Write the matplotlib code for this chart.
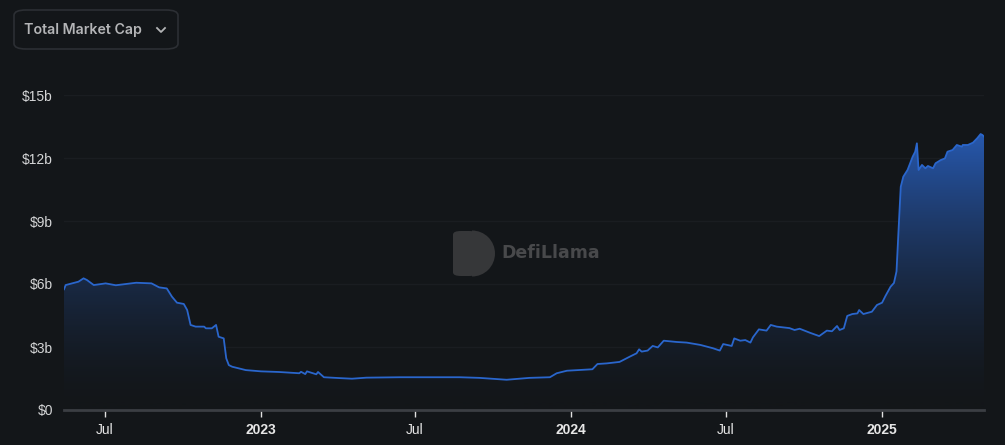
import numpy as np
import pandas as pd
import matplotlib
matplotlib.use("Agg")
import matplotlib.pyplot as plt
import matplotlib.dates as mdates
from matplotlib.colors import LinearSegmentedColormap
from matplotlib.patches import FancyBboxPatch, Wedge
from matplotlib.lines import Line2D

# Total market cap in $b
dates = [
    "2022-05-14", "2022-05-16", "2022-05-31", "2022-06-06", "2022-06-10", "2022-06-18",
    "2022-06-27", "2022-07-02", "2022-07-14", "2022-08-07", "2022-08-25", "2022-09-03",
    "2022-09-12", "2022-09-18", "2022-09-24", "2022-10-02", "2022-10-06", "2022-10-10",
    "2022-10-16", "2022-10-26", "2022-10-28", "2022-11-04", "2022-11-09", "2022-11-12",
    "2022-11-18", "2022-11-21", "2022-11-24", "2022-11-28", "2022-12-14", "2023-01-01",
    "2023-01-22", "2023-02-15", "2023-02-17", "2023-02-22", "2023-02-24", "2023-03-07",
    "2023-03-09", "2023-03-16", "2023-04-03", "2023-04-18", "2023-05-05", "2023-06-13",
    "2023-07-18", "2023-08-23", "2023-09-15", "2023-10-17", "2023-11-13", "2023-12-07",
    "2023-12-15", "2023-12-27", "2024-01-26", "2024-02-01", "2024-02-12", "2024-02-27",
    "2024-03-10", "2024-03-18", "2024-03-21", "2024-03-24", "2024-03-31", "2024-04-06",
    "2024-04-12", "2024-04-19", "2024-05-04", "2024-05-16", "2024-06-01", "2024-06-16",
    "2024-06-24", "2024-06-28", "2024-07-08", "2024-07-11", "2024-07-18", "2024-07-24",
    "2024-07-30", "2024-08-02", "2024-08-09", "2024-08-18", "2024-08-23", "2024-08-30",
    "2024-09-14", "2024-09-20", "2024-09-26", "2024-10-08", "2024-10-19", "2024-10-28",
    "2024-11-03", "2024-11-09", "2024-11-12", "2024-11-17", "2024-11-21", "2024-11-27",
    "2024-12-03", "2024-12-05", "2024-12-10", "2024-12-20", "2024-12-26", "2025-01-01",
    "2025-01-05", "2025-01-11", "2025-01-15", "2025-01-18", "2025-01-21", "2025-01-23",
    "2025-01-26", "2025-01-31", "2025-02-06", "2025-02-09", "2025-02-11", "2025-02-13",
    "2025-02-17", "2025-02-21", "2025-02-24", "2025-03-02", "2025-03-05", "2025-03-11",
    "2025-03-16", "2025-03-19", "2025-03-25", "2025-03-30", "2025-04-05", "2025-04-06",
    "2025-04-12", "2025-04-18", "2025-04-23", "2025-04-27", "2025-04-29", "2025-05-01",
]
mcap = [
    5.75, 5.95, 6.11, 6.27, 6.19, 5.95,
    6.00, 6.03, 5.94, 6.06, 6.03, 5.84,
    5.79, 5.40, 5.11, 5.05, 4.76, 4.05,
    3.97, 3.97, 3.89, 3.89, 4.05, 3.49,
    3.41, 2.46, 2.14, 2.06, 1.90, 1.84,
    1.81, 1.75, 1.82, 1.71, 1.84, 1.70,
    1.81, 1.56, 1.52, 1.49, 1.54, 1.56,
    1.56, 1.56, 1.53, 1.44, 1.53, 1.56,
    1.75, 1.87, 1.94, 2.19, 2.22, 2.29,
    2.54, 2.70, 2.89, 2.78, 2.83, 3.05,
    2.98, 3.30, 3.24, 3.21, 3.10, 2.94,
    2.83, 3.14, 3.05, 3.41, 3.30, 3.33,
    3.21, 3.46, 3.84, 3.78, 4.05, 3.97,
    3.90, 3.81, 3.87, 3.68, 3.52, 3.78,
    3.75, 4.00, 3.81, 3.89, 4.48, 4.57,
    4.60, 4.76, 4.57, 4.68, 5.00, 5.11,
    5.43, 5.87, 6.05, 6.60, 9.05, 10.63,
    11.11, 11.43, 12.06, 12.30, 12.70, 11.43,
    11.67, 11.51, 11.62, 11.51, 11.75, 11.90,
    11.98, 12.30, 12.38, 12.62, 12.54, 12.62,
    12.62, 12.73, 12.94, 13.14, 13.10, 13.02,
]
y_ticks = [0, 3, 6, 9, 12, 15]
y_labels = ["$0", "$3b", "$6b", "$9b", "$12b", "$15b"]
x_ticks = ["2022-07-01", "2023-01-01", "2023-07-01", "2024-01-01", "2024-07-01", "2025-01-01"]
x_labels = ["Jul", "2023", "Jul", "2024", "Jul", "2025"]

bg = "#131619"
line_col = "#2a66cc"
W, H = 1005, 445

plt.rcParams["font.family"] = ["Liberation Sans", "DejaVu Sans"]

fig = plt.figure(figsize=(W / 100, H / 100), dpi=100, facecolor=bg)
ax = fig.add_axes([64 / W, (H - 410) / H, (984 - 64) / W, (410 - 95) / H])
ax.set_facecolor(bg)

x = mdates.date2num(pd.to_datetime(dates))
y = np.array(mcap)

# gradient under the line
poly = ax.fill_between(x, y, 0, color="none", lw=0)
cmap = LinearSegmentedColormap.from_list("fade", [bg, "#2758ad"])
grad = np.linspace(0, 1, 256).reshape(-1, 1) ** 1.6
img = ax.imshow(grad, extent=[x[0], x[-1], 0, y.max()], origin="lower",
                aspect="auto", cmap=cmap, zorder=1)
img.set_clip_path(poly.get_paths()[0], transform=ax.transData)

ax.plot(x, y, color=line_col, lw=1.3, zorder=3)

ax.set_xlim(x[0], mdates.date2num(pd.Timestamp("2025-05-01")))
ax.set_ylim(0, 15)

ax.set_yticks(y_ticks)
ax.set_yticklabels(y_labels)
ax.set_xticks(mdates.date2num(pd.to_datetime(x_ticks)))
ax.set_xticklabels(x_labels)
for lbl, txt in zip(ax.get_xticklabels(), x_labels):
    if txt != "Jul":
        lbl.set_fontweight("bold")

ax.tick_params(axis="y", length=0, pad=8, labelsize=10, labelcolor="#d4d5d6")
ax.tick_params(axis="x", length=5, width=1, color="#e0e0e0", pad=4,
               labelsize=10, labelcolor="#e6e6e6", direction="out")

ax.grid(axis="y", color="#1a1d21", lw=1)
ax.set_axisbelow(True)
for s in ["top", "right", "left"]:
    ax.spines[s].set_visible(False)
ax.spines["bottom"].set_color("#3b3e43")
ax.spines["bottom"].set_linewidth(2)
ax.spines["bottom"].set_zorder(4)


def fx(px):
    return px / W


def fy(py):
    return 1 - py / H


# selector button
btn = FancyBboxPatch((fx(14), fy(49)), fx(164), (39) / H,
                     boxstyle="round,pad=0,rounding_size=0.012",
                     transform=fig.transFigure, facecolor=bg,
                     edgecolor="#2c2f34", lw=1.2)
fig.patches.append(btn)
fig.text(fx(24), fy(30), "Total Market Cap", color="#b4b5b7", fontsize=10.2,
         fontweight="semibold", va="center", ha="left", family="Inter")
fig.add_artist(Line2D([fx(157), fx(161), fx(165)], [fy(28), fy(32), fy(28)],
                      transform=fig.transFigure, color="#b4b5b7", lw=1.3))

# watermark: D-shaped logo and name
fig.patches.append(FancyBboxPatch((fx(453), fy(276)), fx(24), 45 / H,
                                  boxstyle="round,pad=0,rounding_size=0.008",
                                  transform=fig.transFigure, facecolor="#363739",
                                  edgecolor="none"))
logo = Wedge((fx(472), fy(253.5)), fx(23), -90, 90, transform=fig.transFigure,
             facecolor="#363739", edgecolor="none")
logo.set_transform(matplotlib.transforms.Affine2D().scale(1, W / H) + fig.transFigure)
logo.set_center((fx(472), fy(253.5) * H / W))
fig.patches.append(logo)
fig.text(fx(501), fy(253), "DefiLlama", color="#48494b", fontsize=12.5,
         fontweight="bold", va="center", ha="left", family="DejaVu Sans")

fig.savefig("out.png", dpi=100, facecolor=bg)
